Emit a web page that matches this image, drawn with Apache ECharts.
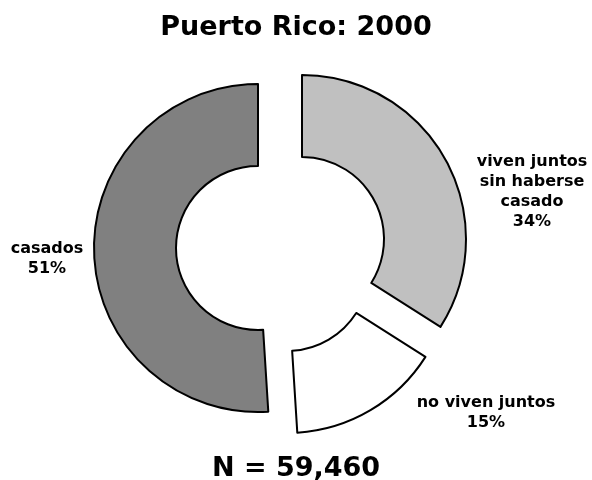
<!DOCTYPE html>
<html lang="es">
<head>
	<meta charset="UTF-8">
	<title>Puerto Rico: 2000</title>
	<script src="https://cdn.jsdelivr.net/npm/echarts@6/dist/echarts.min.js"></script>
	<style>
		html, body { margin: 0; padding: 0; background: #fff; }
		.container { width: 592px; height: 480px; }
	</style>
</head>
<body>
	<div class="container" id="container"></div>
	<script>
		// slices go clockwise from 12 o'clock
		var categories = ['viven juntos\nsin haberse\ncasado', 'no viven juntos', 'casados'];
		var percents = [34, 15, 51];
		var titleText = 'Puerto Rico: 2000';
		var totalText = 'N = 59,460';

		// each slice is pulled out of the ring by its own amount, so one series per slice
		var colors = ['#c0c0c0', '#ffffff', '#808080'];
		var centers = [[302, 239], [287, 269], [258, 248]];
		var labelAt = [[532, 192], [486, 413], [47, 259]];
		var font = 'DejaVu Sans';

		var series = [];
		categories.forEach(function (cat, i) {
			series.push({
				type: 'pie',
				center: centers[i],
				radius: [82, 164],
				startAngle: 90,
				clockwise: true,
				silent: true,
				animation: false,
				label: {
					formatter: '{b}\n{d}%',
					fontFamily: font,
					fontWeight: 'bold',
					fontSize: 16,
					lineHeight: 20,
					color: '#000',
					align: 'center',
					overflow: 'none'
				},
				labelLine: { show: false },
				labelLayout: function () {
					return { x: labelAt[i][0], y: labelAt[i][1], align: 'center', verticalAlign: 'middle' };
				},
				data: categories.map(function (name, j) {
					var own = (j === i);
					return {
						name: name,
						value: percents[j],
						itemStyle: own
							? { color: colors[j], borderColor: '#000', borderWidth: 2 }
							: { color: 'rgba(0,0,0,0)', borderWidth: 0 },
						label: { show: own }
					};
				})
			});
		});

		var myChart = echarts.init(document.getElementById('container'));
		myChart.setOption({
			backgroundColor: '#fff',
			title: [{
				text: titleText,
				left: 'center',
				top: 9,
				textStyle: { fontFamily: font, fontWeight: 'bold', fontSize: 27, color: '#000' }
			}, {
				text: totalText,
				left: 'center',
				top: 450,
				textStyle: { fontFamily: font, fontWeight: 'bold', fontSize: 27, color: '#000' }
			}],
			series: series
		});
	</script>
</body>
</html>
